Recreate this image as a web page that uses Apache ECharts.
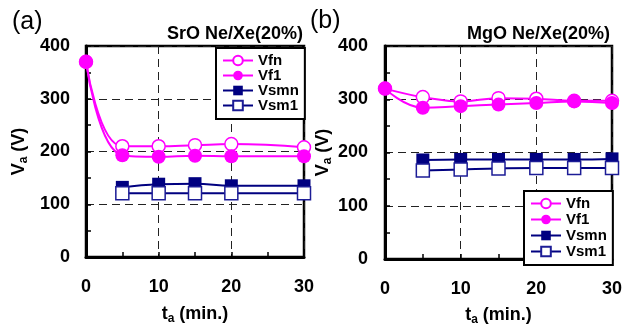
<!DOCTYPE html>
<html><head><meta charset="utf-8">
<script src="https://cdn.jsdelivr.net/npm/echarts@6/dist/echarts.min.js"></script>
<style>html,body{margin:0;padding:0;background:#fff}#c{width:630px;height:331px}</style>
</head><body><div id="c"></div>
<script>
// Firing / sustaining voltages against aging time, two protective layers.
const FONT = '"Liberation Sans", Arial, sans-serif';

// (a) SrO, Ne/Xe(20%)
const timeSrO   = [0, 5, 10, 15, 20, 30];
const vfnSrO    = [370, 210, 210, 212, 214, 208];
const vf1SrO    = [370, 193, 190, 192, 191, 191];
const timeSrOsm = [5, 10, 15, 20, 30];
const vsmnSrO   = [132, 138, 139, 135, 135];
const vsm1SrO   = [121, 121, 121, 121, 121];

// (b) MgO, Ne/Xe(20%)
const timeMgO   = [0, 5, 10, 15, 20, 25, 30];
const vfnMgO    = [320, 304, 296, 302, 301, 297, 297];
const vf1MgO    = [320, 284, 287, 290, 293, 296, 293];
const timeMgOsm = [5, 10, 15, 20, 25, 30];
const vsmnMgO   = [186, 187, 187, 187, 187, 188];
const vsm1MgO   = [166, 168, 170, 171, 171, 171];

// axis ranges
const xRange = {min: 0, max: 30, interval: 10};
const yRange = {min: 0, max: 400, interval: 100};

const seriesNames = ['Vfn', 'Vf1', 'Vsmn', 'Vsm1'];
const panelTitles = ['SrO Ne/Xe(20%)', 'MgO Ne/Xe(20%)'];
const panelTags = ['(a)', '(b)'];

const MAGENTA = '#ff00ff';
const NAVY = '#000080';

const zip = (xs, ys) => xs.map((x, i) => [x, ys[i]]);

const styles = {
  Vfn:  {symbol: 'circle', symbolSize: 13, itemStyle: {color: '#fff', borderColor: MAGENTA, borderWidth: 1.5}, lineStyle: {color: MAGENTA, width: 2}},
  Vf1:  {symbol: 'circle', symbolSize: 14, itemStyle: {color: MAGENTA, borderColor: MAGENTA, borderWidth: 0}, lineStyle: {color: MAGENTA, width: 2}},
  Vsmn: {symbol: 'rect', symbolSize: 13, itemStyle: {color: NAVY, borderColor: NAVY, borderWidth: 0}, lineStyle: {color: NAVY, width: 2}},
  Vsm1: {symbol: 'rect', symbolSize: 13, itemStyle: {color: '#fff', borderColor: '#1c1c96', borderWidth: 1.5}, lineStyle: {color: NAVY, width: 2}}
};

function line(name, idx, data) {
  return Object.assign({
    name, type: 'line', xAxisIndex: idx, yAxisIndex: idx, data,
    smooth: 0.45, showAllSymbol: true, animation: false, z: 3
  }, JSON.parse(JSON.stringify(styles[name])));
}

const grids = [
  {left: 86, right: 326, top: 46, bottom: 74},
  {left: 385, right: 18, top: 46, bottom: 68}
];

const nameRich = {
  v: {fontSize: 18, fontWeight: 'bold', fontFamily: FONT, color: '#000', lineHeight: 22},
  s: {fontSize: 12, fontWeight: 'bold', fontFamily: FONT, color: '#000', lineHeight: 12, verticalAlign: 'bottom'}
};

function xAxis(idx, gap) {
  return Object.assign({
    type: 'value', gridIndex: idx,
    name: '{v|t}{s|a}{v| (min.)}', nameLocation: 'middle', nameGap: gap,
    nameTextStyle: {rich: nameRich},
    axisLine: {show: true, onZero: false, lineStyle: {color: '#000', width: 3}},
    axisTick: {show: true, inside: true, length: 5, lineStyle: {color: '#000', width: 1.5}},
    minorTick: {show: true, splitNumber: 2, length: 5, lineStyle: {color: '#000', width: 1.5}},
    axisLabel: {fontSize: 18, fontWeight: 'bold', fontFamily: FONT, color: '#000', margin: 21},
    splitLine: {show: true, lineStyle: {color: '#222', type: [8, 5], width: 1}}
  }, xRange);
}

function yAxis(idx, gap, margin) {
  return Object.assign({
    type: 'value', gridIndex: idx,
    name: '{v|V}{s|a}{v| (V)}', nameLocation: 'middle', nameGap: gap,
    nameTextStyle: {rich: nameRich},
    axisLine: {show: true, onZero: false, lineStyle: {color: '#000', width: 3}},
    axisTick: {show: true, inside: true, length: 5, lineStyle: {color: '#000', width: 1.5}},
    minorTick: {show: true, splitNumber: 2, length: 5, lineStyle: {color: '#000', width: 1.5}},
    axisLabel: {fontSize: 18, fontWeight: 'bold', fontFamily: FONT, color: '#000', margin},
    splitLine: {show: true, lineStyle: {color: '#222', type: [8, 5], width: 1}}
  }, yRange);
}

function legend(left, top, gap) {
  return {
    data: seriesNames, orient: 'vertical', left, top,
    itemWidth: 30, itemHeight: 12, itemGap: gap,
    padding: [5, 6, 6, 6],
    backgroundColor: '#fff', borderColor: '#000', borderWidth: 2,
    textStyle: {fontSize: 15, fontWeight: 'bold', fontFamily: FONT, color: '#000', lineHeight: 14},
    selectedMode: false, z: 10
  };
}

const chart = echarts.init(document.getElementById('c'), null, {renderer: 'canvas'});
chart.setOption({
  animation: false,
  backgroundColor: '#fff',
  grid: grids.map(g => Object.assign({show: true, borderColor: '#000', borderWidth: 2.5, backgroundColor: 'transparent'}, g)),
  xAxis: [xAxis(0, 46), xAxis(1, 45)],
  yAxis: [yAxis(0, 56, 16), yAxis(1, 36, 17)],
  legend: [legend(216, 48, 0), legend(524, 191, 1)],
  graphic: [
    {type: 'text', left: 12, top: 10, style: {text: panelTags[0], font: '25px ' + FONT, fill: '#000'}},
    {type: 'text', left: 310, top: 9, style: {text: panelTags[1], font: '25px ' + FONT, fill: '#000'}},
    {type: 'text', x: 303, y: 34, style: {text: panelTitles[0], font: 'bold 18px ' + FONT, fill: '#000', align: 'right', verticalAlign: 'middle'}},
    {type: 'text', x: 610, y: 34, style: {text: panelTitles[1], font: 'bold 18px ' + FONT, fill: '#000', align: 'right', verticalAlign: 'middle'}}
  ],
  series: [
    line('Vfn', 0, zip(timeSrO, vfnSrO)),
    line('Vf1', 0, zip(timeSrO, vf1SrO)),
    line('Vsmn', 0, zip(timeSrOsm, vsmnSrO)),
    line('Vsm1', 0, zip(timeSrOsm, vsm1SrO)),
    line('Vfn', 1, zip(timeMgO, vfnMgO)),
    line('Vf1', 1, zip(timeMgO, vf1MgO)),
    line('Vsmn', 1, zip(timeMgOsm, vsmnMgO)),
    line('Vsm1', 1, zip(timeMgOsm, vsm1MgO))
  ]
});
</script>
</body></html>
